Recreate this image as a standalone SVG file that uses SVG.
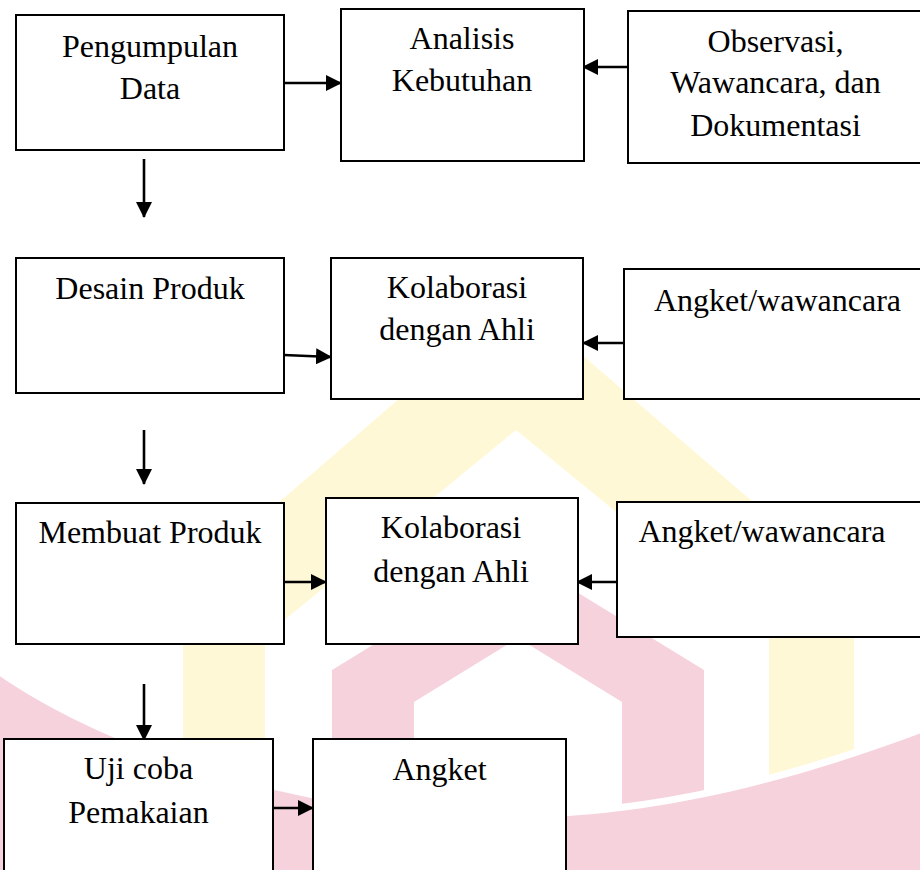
<svg xmlns="http://www.w3.org/2000/svg" width="920" height="870" viewBox="0 0 920 870">
<style>
.box{fill:#ffffff;stroke:#000000;stroke-width:2}
.t{font-family:"Liberation Serif","Times New Roman",serif;font-size:32px;fill:#000000;text-anchor:middle}
.c{stroke:#000000;stroke-width:2.6;fill:none;marker-end:url(#ah)}
.wy{fill:#FFF8D6}
.wp{fill:#F6D3DC}
</style>
<defs>
<marker id="ah" viewBox="0 0 16 16" refX="15" refY="8" markerWidth="16" markerHeight="16" markerUnits="userSpaceOnUse" orient="auto">
<path d="M0,0 L16,8 L0,16 z" fill="#000000"/>
</marker>
</defs>
<rect width="920" height="870" fill="#ffffff"/>
<g id="watermark">
<path class="wy" d="M516,298 L854,589 L854,800 L769,800 L769,637 L516,430 L265,636 L265,800 L183,800 L183,585 Z"/>
<path class="wp" d="M332,900 L332,670 L518,556 L704,670 L704,900 L622,900 L622,702 L518,638 L414,702 L414,900 Z"/>
<path class="wp" d="M-20,662 C100,752 300,815 500,818 C650,820 800,780 940,726 L940,900 L-20,900 Z" stroke="#ffffff" stroke-width="14" paint-order="stroke"/>
</g>
<g id="connectors">
<line class="c" x1="284" y1="83" x2="341" y2="83"/>
<line class="c" x1="628" y1="67" x2="583" y2="67"/>
<line class="c" x1="144" y1="159" x2="144" y2="217"/>
<line class="c" x1="284" y1="355" x2="331" y2="357"/>
<line class="c" x1="624" y1="343" x2="583" y2="343"/>
<line class="c" x1="144" y1="430" x2="144" y2="484"/>
<line class="c" x1="284" y1="582" x2="326" y2="582"/>
<line class="c" x1="617" y1="582" x2="577" y2="582"/>
<line class="c" x1="144" y1="684" x2="144" y2="740" stroke-width="2"/>
<line class="c" x1="273" y1="808" x2="313" y2="808"/>
</g>
<g id="n1"><rect class="box" x="16" y="15" width="268" height="135"/><text class="t" x="150" y="57">Pengumpulan</text><text class="t" x="150" y="99">Data</text></g>
<g id="n2"><rect class="box" x="341" y="9" width="243" height="152"/><text class="t" x="462" y="49">Analisis</text><text class="t" x="462" y="91">Kebutuhan</text></g>
<g id="n3"><rect class="box" x="628" y="11" width="300" height="152"/><text class="t" x="775.5" y="52">Observasi,</text><text class="t" x="775.5" y="93">Wawancara, dan</text><text class="t" x="775.5" y="136">Dokumentasi</text></g>
<g id="n4"><rect class="box" x="16" y="258" width="268" height="135"/><text class="t" x="150" y="299">Desain Produk</text></g>
<g id="n5"><rect class="box" x="331" y="258" width="252" height="141"/><text class="t" x="457" y="298">Kolaborasi</text><text class="t" x="457" y="340">dengan Ahli</text></g>
<g id="n6"><rect class="box" x="624" y="269" width="300" height="130"/><text class="t" x="777.5" y="311">Angket/wawancara</text></g>
<g id="n7"><rect class="box" x="16" y="503" width="268" height="141"/><text class="t" x="150" y="543">Membuat Produk</text></g>
<g id="n8"><rect class="box" x="326" y="498" width="252" height="146"/><text class="t" x="451" y="538">Kolaborasi</text><text class="t" x="451" y="582">dengan Ahli</text></g>
<g id="n9"><rect class="box" x="617" y="502" width="310" height="135"/><text class="t" x="762" y="542">Angket/wawancara</text></g>
<g id="n10"><rect class="box" x="4" y="739" width="269" height="140"/><text class="t" x="138.5" y="779">Uji coba</text><text class="t" x="138.5" y="823">Pemakaian</text></g>
<g id="n11"><rect class="box" x="313" y="739" width="253" height="140"/><text class="t" x="439.5" y="780">Angket</text></g>
</svg>
